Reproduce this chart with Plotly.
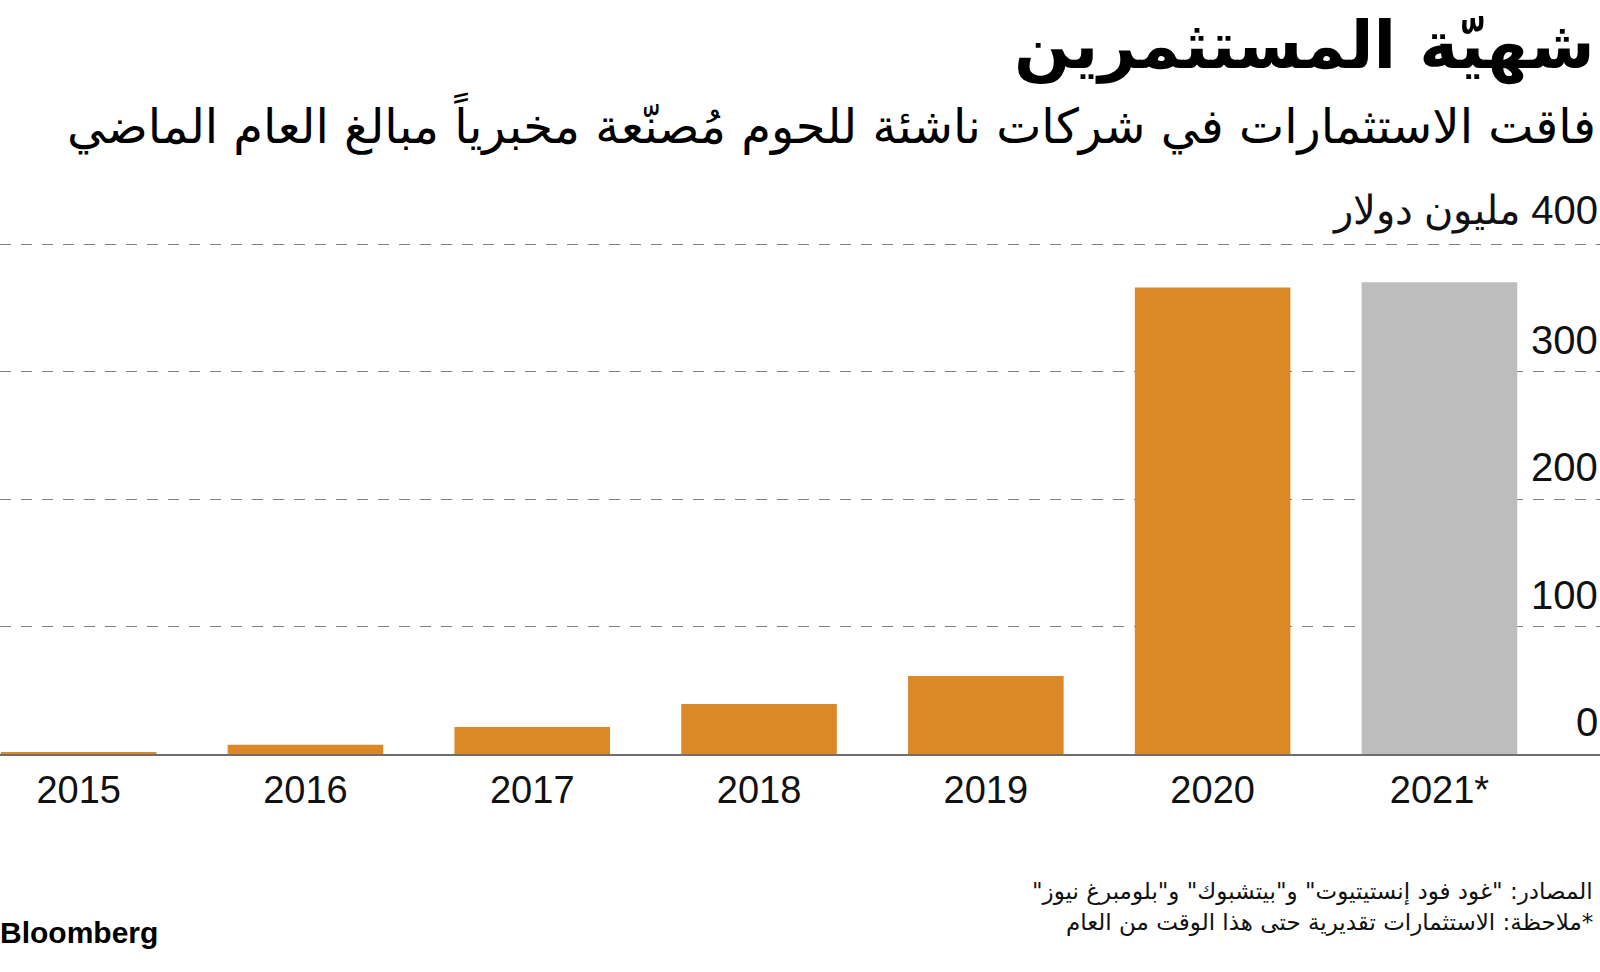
import plotly.graph_objects as go

# ---- data ----
years = ["2015", "2016", "2017", "2018", "2019", "2020", "2021*"]
investment = [1.8, 7.5, 21.4, 39.5, 61.3, 366, 370]
bar_colors = ["#DB8926", "#DB8926", "#DB8926", "#DB8926", "#DB8926", "#DB8926", "#BDBDBD"]
ytick_vals = [0, 100, 200, 300, 400]
ytick_text = ["0", "100", "200", "300", "400 مليون دولار"]

title = "شهيّة المستثمرين"
subtitle = "فاقت الاستثمارات في شركات ناشئة للحوم مُصنّعة مخبرياً مبالغ العام الماضي"
source = 'المصادر: "غود فود إنستيتيوت" و"بيتشبوك" و"بلومبرغ نيوز"'
note = "*ملاحظة: الاستثمارات تقديرية حتى هذا الوقت من العام"

RLE, PDF = "\u202B", "\u202C"
W, H = 1600, 972

def py(px):
    return 1 - px / H

fig = go.Figure()
fig.add_trace(go.Bar(
    x=years, y=investment,
    marker=dict(color=bar_colors, line=dict(width=0)),
    hoverinfo="x+y",
))

NUM_FONT = "Liberation Sans, Arial, sans-serif"
AR_FONT = "DejaVu Sans, sans-serif"

fig.update_layout(
    width=W, height=H,
    margin=dict(l=0, r=0, t=0, b=0),
    paper_bgcolor="white", plot_bgcolor="white",
    showlegend=False,
    bargap=0.314,
    xaxis=dict(
        type="category",
        range=[-0.3468, 6.708],
        showgrid=False, zeroline=False,
        showline=True, linecolor="#6e6e6e", linewidth=1.5,
        layer="above traces",
        ticks="", ticklabelstandoff=1,
        tickfont=dict(family=NUM_FONT, size=38, color="#111"),
        fixedrange=True,
    ),
    yaxis=dict(
        range=[0, 402],
        domain=[217.7 / H, 1 - 241.5 / H],
        showgrid=True, gridcolor="#808080", gridwidth=1, griddash="11px,10px",
        tickvals=ytick_vals,
        zeroline=False, showticklabels=False, ticks="",
        fixedrange=True,
    ),
)

# y tick labels drawn above their gridlines at the right edge
for v, t in zip(ytick_vals, ytick_text):
    txt = RLE + t + PDF if not t.isdigit() else t
    fig.add_annotation(
        x=1, xref="paper", y=v, yref="y",
        xanchor="right", yanchor="bottom", yshift=8,
        text=txt, showarrow=False,
        font=dict(family=NUM_FONT, size=40, color="#111"),
    )

# title & subtitle
fig.add_annotation(
    x=0.998, xref="paper", y=py(46), yref="paper", xanchor="right", yanchor="middle",
    text="<b>" + RLE + title + PDF + "</b>", showarrow=False,
    font=dict(family=AR_FONT, size=66, color="#000"),
)
fig.add_annotation(
    x=0.999, xref="paper", y=py(124), yref="paper", xanchor="right", yanchor="middle",
    text=RLE + subtitle + PDF, showarrow=False,
    font=dict(family=AR_FONT, size=48, color="#000"),
)
# footer
fig.add_annotation(
    x=0.997, xref="paper", y=py(891), yref="paper", xanchor="right", yanchor="middle",
    text=RLE + source + PDF, showarrow=False,
    font=dict(family=AR_FONT, size=23, color="#111"),
)
fig.add_annotation(
    x=0.997, xref="paper", y=py(922), yref="paper", xanchor="right", yanchor="middle",
    text=RLE + note + PDF, showarrow=False,
    font=dict(family=AR_FONT, size=23, color="#111"),
)
fig.add_annotation(
    x=0, xref="paper", y=py(932), yref="paper", xanchor="left", yanchor="middle", xshift=-2,
    text="<b>Bloomberg</b>", showarrow=False,
    font=dict(family="Liberation Sans, Arial, sans-serif", size=30, color="#000"),
)

fig.write_html(
    "out.html",
    config={"displayModeBar": False},
    post_script="document.body.style.margin='0';document.body.style.overflow='hidden';",
)
